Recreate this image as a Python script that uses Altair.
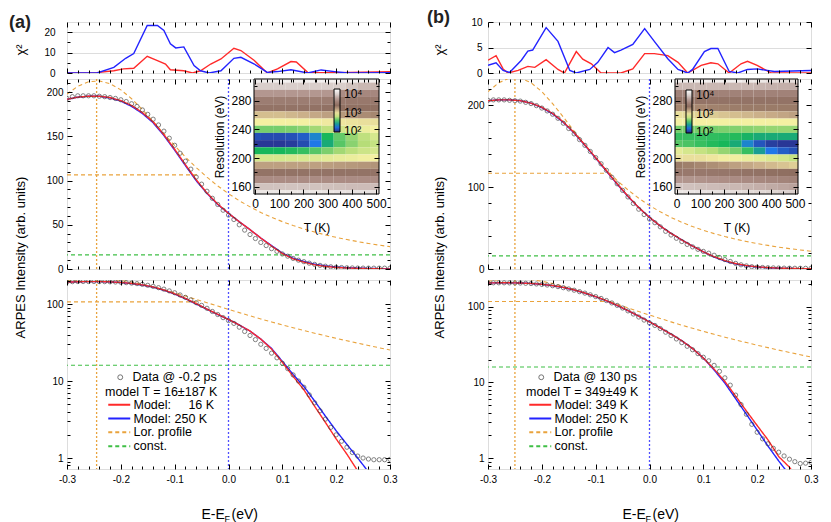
import altair as alt
import pandas as pd

FONT = "Liberation Sans"
W = 323
H_CHI, H_LIN, H_LOG = 51, 190, 189
XDOM = [-0.3, 0.3]

C_RED = "#ff2a2a"
C_BLUE = "#2323ff"
C_ORANGE = "#e9a33d"
C_GREEN = "#3fbf46"
C_VBLUE = "#5050ff"
C_DATA = "#3a3a3a"

# ---------------- energies ----------------
E_DATA = [-0.30, -0.29, -0.28, -0.27, -0.26, -0.25, -0.24, -0.23, -0.22, -0.21,
          -0.20, -0.19, -0.18, -0.17, -0.16, -0.15, -0.14, -0.13, -0.12, -0.11,
          -0.10, -0.09, -0.08, -0.07, -0.06, -0.05, -0.04, -0.03, -0.02, -0.01,
          0.00, 0.01, 0.02, 0.03, 0.04, 0.05, 0.06, 0.07, 0.08, 0.09,
          0.10, 0.11, 0.12, 0.13, 0.14, 0.15, 0.16, 0.17, 0.18, 0.19,
          0.20, 0.21, 0.22, 0.23, 0.24, 0.25, 0.26, 0.27, 0.28, 0.29, 0.30]
E_MODEL = [-0.30, -0.28, -0.26, -0.24, -0.22, -0.20, -0.18, -0.16, -0.14, -0.12,
           -0.10, -0.08, -0.06, -0.04, -0.02, 0.00, 0.02, 0.04, 0.06, 0.08,
           0.10, 0.12, 0.14, 0.16, 0.18, 0.20, 0.22, 0.24, 0.26, 0.28, 0.30]
X_MAJOR = [-0.3, -0.2, -0.1, 0.0, 0.1, 0.2, 0.3]
X_MINOR = [-0.28, -0.26, -0.24, -0.22, -0.18, -0.16, -0.14, -0.12, -0.08, -0.06,
           -0.04, -0.02, 0.02, 0.04, 0.06, 0.08, 0.12, 0.14, 0.16, 0.18,
           0.22, 0.24, 0.26, 0.28]

# ---------------- panel (a) ----------------
DATA_A = [193, 195, 196, 196, 196, 196, 195.5, 195, 194, 193,
          191.5, 189.5, 187, 184, 180, 175, 169.5, 163, 156, 148,
          140, 131, 122, 113, 104, 96, 88, 80, 73, 66.5,
          61, 56, 50, 44, 39, 34.5, 30, 26.5, 23, 20,
          17, 14.5, 12, 10, 8.3, 6.6, 5.2, 4.1, 3.2, 2.5,
          2.0, 1.65, 1.38, 1.18, 1.06, 1.0, 0.97, 0.95, 0.95, 0.95, 0.96]
RED_A = [192, 194.5, 195.5, 195.5, 194, 190.5, 185, 177, 166.5, 152,
         135.5, 118, 101, 86, 73.5, 63, 53.5, 44.5, 35, 26,
         17.5, 11.5, 7.7, 4.7, 2.9, 1.77, 1.12, 0.68, 0.4, 0.22, 0.12]
BLUE_A = [192, 194.5, 195.5, 195.5, 193.5, 190, 184, 176, 165.5, 151,
          134.5, 117, 100, 85.5, 73, 63, 53.5, 44.5, 35, 26.5,
          18, 12.2, 8.5, 5.5, 3.5, 2.26, 1.5, 1.0, 0.66, 0.43, 0.27]
LOR_A = [198, 206.7, 211.8, 212.9, 209.7, 202.7, 192.7, 180.4, 167, 153.2,
         139.6, 126.7, 114.8, 103.9, 94, 85.2, 77.3, 70.3, 64, 58.5,
         53.6, 49.2, 45.3, 41.8, 38.6, 35.8, 33.3, 31, 28.9, 27, 25.3]
CHI_A_RED_X = [-0.30, -0.245, -0.213, -0.195, -0.176, -0.151, -0.132, -0.117, -0.108, -0.083,
               -0.067, -0.052, -0.033, -0.014, 0.010, 0.023, 0.048, 0.072, 0.091, 0.116,
               0.126, 0.147, 0.20, 0.30]
CHI_A_RED = [0, 0.2, 1.1, 2.0, 2.3, 8.2, 6.1, 4.4, 1.6, 1.1,
             0, 1.1, 4.4, 6.9, 12.1, 11.0, 6.1, 0, 2.0, 5.6,
             5.4, 0.3, 0.1, 0.6]
CHI_A_BLUE_X = [-0.30, -0.244, -0.213, -0.191, -0.176, -0.151, -0.132, -0.120, -0.108, -0.098,
                -0.083, -0.064, -0.052, -0.036, -0.014, 0.010, 0.023, 0.048, 0.072, 0.091,
                0.116, 0.147, 0.172, 0.197, 0.221, 0.30]
CHI_A_BLUE = [0, 0, 2.8, 7.2, 9.5, 23.3, 23.3, 20.8, 14.3, 12.3,
              12.8, 3.6, 1.1, 0, 1.1, 7.2, 7.7, 4.4, 0.3, 0.7,
              1.6, 0, 1.5, 0.7, 0, 0.2]

# ---------------- panel (b) ----------------
DATA_B = [206, 206.5, 206.5, 206.5, 206, 205.5, 205, 203.5, 202, 199.5,
          196.5, 193, 189, 184, 178, 171.5, 165, 158, 151, 143.5,
          136, 128.5, 120.5, 112, 104, 96, 88, 80, 73, 66.5,
          61, 56.5, 51.5, 46, 41.5, 37.5, 33.5, 30, 27, 24,
          21.5, 19.3, 16.8, 14, 11.5, 9.2, 6.8, 5.1, 3.8, 2.8,
          2.2, 1.8, 1.55, 1.35, 1.2, 1.07, 0.97, 0.9, 0.85, 0.86, 0.88]
RED_B = [205.5, 206.5, 206.5, 205.5, 202.5, 197.5, 190, 179.5, 166.5, 151.5,
         136, 120, 104, 89, 75, 63, 52.5, 43.5, 35.5, 28,
         21, 15, 10.3, 6.6, 4.2, 2.7, 1.75, 1.05, 0.76, 0.48, 0.3]
BLUE_B = [205.5, 206.5, 206.5, 205.5, 202.5, 197, 189.5, 179, 166, 151,
          135.5, 119.5, 103.5, 88.5, 75, 63, 52.5, 43.5, 35.5, 28,
          21, 14.6, 9.8, 6.1, 3.8, 2.35, 1.45, 0.92, 0.6, 0.38, 0.23]
LOR_B = [216.5, 227.4, 233.3, 233.3, 227.4, 216.5, 202, 185.5, 168.3, 151.4,
         135.5, 121, 108, 96.5, 86.4, 77.5, 69.8, 63, 57, 51.8,
         47.2, 43.2, 39.6, 36.4, 33.6, 31, 28.8, 26.7, 24.9, 23.2, 21.7]
CHI_B_RED_X = [-0.30, -0.285, -0.272, -0.263, -0.244, -0.226, -0.213, -0.192, -0.17, -0.158,
               -0.136, -0.124, -0.108, -0.09, -0.053, -0.031, -0.009, 0.009, 0.034, 0.053,
               0.071, 0.096, 0.114, 0.127, 0.148, 0.17, 0.182, 0.2, 0.226, 0.30]
CHI_B_RED = [2.5, 3.4, 0.8, 0.0, 0.5, 1.3, 1.1, 2.6, 0.7, 0.0,
             4.2, 2.7, 1.8, 0.0, 0.0, 0.8, 3.8, 3.8, 3.4, 2.1,
             0.0, 1.5, 2.0, 1.8, 0.0, 1.8, 2.3, 1.5, 0.0, 0.0]
CHI_B_BLUE_X = [-0.30, -0.285, -0.272, -0.26, -0.238, -0.226, -0.217, -0.192, -0.17, -0.148,
                -0.136, -0.111, -0.096, -0.077, -0.065, -0.053, -0.031, -0.009, 0.009, 0.034,
                0.053, 0.071, 0.08, 0.102, 0.114, 0.127, 0.148, 0.164, 0.182, 0.2,
                0.232, 0.30]
CHI_B_BLUE = [1.5, 2.0, 0.5, 0.1, 2.5, 4.3, 4.5, 8.9, 6.2, 0.5,
              0.0, 0.7, 2.1, 5.0, 4.0, 4.5, 5.6, 8.7, 6.2, 2.8,
              0.7, 0.0, 0.7, 4.2, 4.8, 4.8, 0.3, 0.0, 0.7, 0.8,
              0.3, 0.5]

# ---------------- inset maps: log10(chi^2) ----------------
HEAT_T = [0, 50, 100, 150, 200, 250, 300, 350, 400, 450, 500]
HEAT_RES = [310, 300, 290, 280, 270, 260, 250, 240, 230, 220, 210, 200, 190, 180, 170, 160, 150]
HEAT_A = [
    [4.2, 4.2, 4.2, 4.2, 4.2, 4.2, 4.2, 4.2, 4.2, 4.2, 4.2],
    [4.0, 4.0, 4.0, 4.0, 4.0, 4.0, 4.0, 4.0, 3.95, 3.9, 3.9],
    [3.75, 3.75, 3.75, 3.75, 3.75, 3.75, 3.75, 3.7, 3.7, 3.65, 3.65],
    [3.55, 3.55, 3.55, 3.55, 3.55, 3.55, 3.55, 3.5, 3.5, 3.5, 3.5],
    [3.45, 3.45, 3.45, 3.45, 3.45, 3.44, 3.43, 3.42, 3.42, 3.42, 3.42],
    [3.1, 3.1, 3.1, 3.12, 3.14, 3.17, 3.2, 3.23, 3.26, 3.28, 3.3],
    [2.95, 2.95, 2.95, 2.95, 2.95, 2.96, 2.97, 2.98, 2.99, 3.0, 3.0],
    [2.65, 2.65, 2.65, 2.66, 2.68, 2.72, 2.78, 2.84, 2.88, 2.92, 2.95],
    [2.1, 2.08, 2.08, 2.1, 2.15, 2.3, 2.5, 2.62, 2.7, 2.78, 2.85],
    [2.0, 2.0, 2.0, 2.02, 2.08, 2.25, 2.45, 2.6, 2.68, 2.75, 2.8],
    [2.5, 2.5, 2.5, 2.52, 2.55, 2.6, 2.66, 2.72, 2.77, 2.82, 2.85],
    [2.85, 2.85, 2.85, 2.86, 2.87, 2.88, 2.9, 2.91, 2.92, 2.94, 2.95],
    [3.2, 3.2, 3.2, 3.2, 3.2, 3.2, 3.21, 3.22, 3.23, 3.24, 3.25],
    [3.45, 3.45, 3.45, 3.45, 3.45, 3.45, 3.45, 3.45, 3.45, 3.45, 3.45],
    [3.7, 3.7, 3.7, 3.7, 3.7, 3.7, 3.7, 3.7, 3.7, 3.7, 3.7],
    [3.95, 3.95, 3.95, 3.95, 3.95, 3.95, 3.94, 3.93, 3.92, 3.92, 3.92],
    [4.15, 4.15, 4.15, 4.15, 4.15, 4.15, 4.14, 4.13, 4.12, 4.12, 4.12],
]
HEAT_B = [
    [4.2, 4.2, 4.2, 4.2, 4.2, 4.2, 4.15, 4.15, 4.1, 4.1, 4.1],
    [3.9, 3.9, 3.9, 3.9, 3.9, 3.9, 3.9, 3.88, 3.87, 3.86, 3.85],
    [3.6, 3.6, 3.6, 3.6, 3.6, 3.6, 3.6, 3.6, 3.6, 3.6, 3.6],
    [3.45, 3.45, 3.45, 3.45, 3.45, 3.45, 3.45, 3.45, 3.45, 3.45, 3.45],
    [3.3, 3.3, 3.3, 3.32, 3.33, 3.34, 3.35, 3.35, 3.35, 3.35, 3.35],
    [3.0, 3.02, 3.04, 3.06, 3.08, 3.1, 3.12, 3.14, 3.16, 3.18, 3.2],
    [2.95, 2.95, 2.95, 2.95, 2.95, 2.95, 2.95, 2.95, 2.95, 2.95, 2.95],
    [2.65, 2.65, 2.65, 2.65, 2.66, 2.67, 2.68, 2.69, 2.7, 2.7, 2.7],
    [2.55, 2.55, 2.55, 2.54, 2.53, 2.52, 2.48, 2.45, 2.45, 2.45, 2.45],
    [2.6, 2.58, 2.55, 2.52, 2.5, 2.45, 2.3, 2.12, 2.03, 2.0, 2.0],
    [2.9, 2.85, 2.8, 2.75, 2.7, 2.65, 2.55, 2.4, 2.25, 2.15, 2.1],
    [3.0, 3.0, 3.0, 2.98, 2.96, 2.94, 2.92, 2.9, 2.87, 2.84, 2.8],
    [3.35, 3.33, 3.3, 3.27, 3.24, 3.2, 3.17, 3.14, 3.11, 3.08, 3.05],
    [3.5, 3.5, 3.5, 3.49, 3.48, 3.47, 3.45, 3.44, 3.42, 3.41, 3.4],
    [3.75, 3.74, 3.73, 3.72, 3.71, 3.7, 3.68, 3.66, 3.64, 3.62, 3.6],
    [3.95, 3.94, 3.93, 3.92, 3.91, 3.9, 3.88, 3.86, 3.84, 3.82, 3.8],
    [4.15, 4.14, 4.13, 4.12, 4.11, 4.1, 4.08, 4.06, 4.04, 4.02, 4.0],
]
CB_STOPS = [1.95, 2.25, 2.5, 2.75, 2.95, 3.15, 3.4, 3.7, 4.0, 4.3]
CB_COLORS = ["#2b2a85", "#1f78e8", "#17b75a", "#b6dd78", "#f4f0a2",
             "#c9ad89", "#8e6e60", "#ab8c84", "#d9cecb", "#ffffff"]
T_MAJOR = [0, 100, 200, 300, 400, 500]
T_MINOR = [50, 150, 250, 350, 450]
R_MAJOR = [160, 200, 240, 280]
R_MINOR = [180, 220, 260, 300]
RDOM = [150, 310]
INSET_H = 115

LOG_MAJOR = [1, 10, 100]
LOG_MINOR = [0.8, 0.9, 2, 3, 4, 5, 6, 7, 8, 9, 20, 30, 40, 50, 60, 70, 80, 90, 200]

PANELS = [
    dict(tag="(a)", tag_dx=-58, ytx=-47, chi_pad=12, data=DATA_A, red=RED_A, blue=BLUE_A, lor=LOR_A,
         chi_rx=CHI_A_RED_X, chi_r=CHI_A_RED, chi_bx=CHI_A_BLUE_X, chi_b=CHI_A_BLUE,
         chi_dom=[0, 25], chi_major=[0, 10, 20], chi_minor=[5, 15],
         lin_dom=[0, 215], lin_major=[0, 50, 100, 150, 200],
         lin_minor=[10, 20, 30, 40, 60, 70, 80, 90, 110, 120, 130, 140, 160, 170, 180, 190, 210],
         log_dom=[0.72, 205], peak_x=-0.245, half=106.5, half_end=-0.057, const=16,
         data_lbl="Data @ -0.2 ps", model_title="model T = 16\u00b1187 K",
         m1="Model: \u2007\u200716 K", m2="Model: 250 K",
         heat=HEAT_A, tdom=[-4, 512], trange=[187, 312], cbx=267, cby=10),
    dict(tag="(b)", tag_dx=-61, ytx=-49, chi_pad=6, data=DATA_B, red=RED_B, blue=BLUE_B, lor=LOR_B,
         chi_rx=CHI_B_RED_X, chi_r=CHI_B_RED, chi_bx=CHI_B_BLUE_X, chi_b=CHI_B_BLUE,
         chi_dom=[0, 10], chi_major=[0, 5, 10], chi_minor=[],
         lin_dom=[0, 232], lin_major=[0, 100, 200],
         lin_minor=[20, 40, 60, 80, 120, 140, 160, 180, 220],
         log_dom=[0.72, 225], peak_x=-0.25, half=117, half_end=-0.068, const=16,
         data_lbl="Data @ 130 ps", model_title="model T = 349\u00b149 K",
         m1="Model: 349 K", m2="Model: 250 K",
         heat=HEAT_B, tdom=[-7, 513], trange=[187, 310], cbx=198, cby=11),
]


def tick_axis(orient, offset, values, size):
    return alt.Axis(orient=orient, offset=offset, values=values, tickSize=size, labels=False,
                    domain=False, grid=False, title=None, ticks=True, tickColor="black",
                    tickWidth=1, zindex=1)


def tick_layers(dummy, xf, yf, xsc, ysc, xmaj, xmin, ymaj, ymin, box, w, h):
    """Inward ticks on the four edges of box=(x0, x1, y0, y1) in pixels."""
    x0, x1, y0, y1 = box
    specs = [
        (("top", -y1, xmaj, 5), ("right", x0 - w, ymaj, 5)),
        (("bottom", y0 - h, xmaj, 5), ("left", -x1, ymaj, 5)),
        (("top", -y1, xmin, 3), ("right", x0 - w, ymin, 3)),
        (("bottom", y0 - h, xmin, 3), ("left", -x1, ymin, 3)),
    ]
    out = []
    for xs, ys in specs:
        out.append(alt.Chart(dummy).mark_point(opacity=0).encode(
            x=alt.X(f"{xf}:Q", scale=xsc, axis=tick_axis(*xs)),
            y=alt.Y(f"{yf}:Q", scale=ysc, axis=tick_axis(*ys))))
    return out


def xsc():
    return alt.Scale(domain=XDOM, nice=False, zero=False)


def build_column(p):
    # ---------- chi^2 panel ----------
    chi_sc = alt.Scale(domain=p["chi_dom"], nice=False, zero=False)
    chi_yaxis = alt.Axis(orient="left", values=p["chi_major"], ticks=False, domain=False,
                         labelPadding=p["chi_pad"], labelFlush=False, title="\u03c7\u00b2",
                         titleX=p["ytx"], titleY=H_CHI / 2 + 2, titleAngle=-90, titleAlign="center",
                         titleBaseline="middle", titleFontSize=13, titleFontWeight="normal")
    chi_r = alt.Chart(pd.DataFrame({"x": p["chi_rx"], "y": p["chi_r"]})).mark_line(
        color=C_RED, strokeWidth=1.4, clip=True).encode(
        x=alt.X("x:Q", scale=xsc(), axis=None),
        y=alt.Y("y:Q", scale=chi_sc, axis=chi_yaxis))
    chi_b = alt.Chart(pd.DataFrame({"x": p["chi_bx"], "y": p["chi_b"]})).mark_line(
        color=C_BLUE, strokeWidth=1.4, clip=True).encode(
        x=alt.X("x:Q", scale=xsc(), axis=None),
        y=alt.Y("y:Q", scale=chi_sc, axis=None))
    dummy = pd.DataFrame({"x": [0.0], "y": [p["chi_dom"][0]]})
    chi = alt.layer(chi_r, chi_b, *tick_layers(dummy, "x", "y", xsc(), chi_sc, X_MAJOR, X_MINOR,
                                               p["chi_major"], p["chi_minor"], (0, W, 0, H_CHI), W, H_CHI)
                    ).resolve_axis(x="independent", y="independent").properties(
        width=W, height=H_CHI,
        title=alt.TitleParams(p["tag"], anchor="start", frame="group", dx=p["tag_dx"], offset=-10,
                              fontSize=18, fontWeight="bold", font=FONT, color="#222222"))

    # ---------- linear panel ----------
    lin_sc = alt.Scale(domain=p["lin_dom"], nice=False, zero=False)
    df_model = pd.DataFrame({"x": E_MODEL, "red": p["red"], "blue": p["blue"], "lor": p["lor"]})
    df_data = pd.DataFrame({"x": E_DATA, "y": p["data"]})
    lin_yaxis = alt.Axis(orient="left", values=p["lin_major"], ticks=False, domain=False,
                         labelPadding=4, labelFlush=False,
                         title="ARPES Intensity (arb. units)", titleX=p["ytx"], titleY=178,
                         titleAngle=-90, titleAlign="center", titleBaseline="middle",
                         titleFontSize=13, titleFontWeight="normal")

    def lin_line(field, color, dash, width, axis=None):
        return alt.Chart(df_model).mark_line(color=color, strokeDash=dash, strokeWidth=width,
                                             clip=True).encode(
            x=alt.X("x:Q", scale=xsc(), axis=None),
            y=alt.Y(f"{field}:Q", scale=lin_sc, axis=axis))

    l_lor = lin_line("lor", C_ORANGE, [4, 3], 1.1)
    l_const = alt.Chart(pd.DataFrame({"y": [p["const"]]})).mark_rule(
        color=C_GREEN, strokeDash=[4, 3], strokeWidth=1.1).encode(
        y=alt.Y("y:Q", scale=lin_sc, axis=None))
    l_vo = alt.Chart(pd.DataFrame({"x": [p["peak_x"]]})).mark_rule(
        color=C_ORANGE, strokeDash=[2, 2], strokeWidth=1.3).encode(
        x=alt.X("x:Q", scale=xsc(), axis=None))
    l_vb = alt.Chart(pd.DataFrame({"x": [0.0]})).mark_rule(
        color=C_VBLUE, strokeDash=[2, 2], strokeWidth=1.3).encode(
        x=alt.X("x:Q", scale=xsc(), axis=None))
    l_h = alt.Chart(pd.DataFrame({"x": [-0.3], "x2": [p["half_end"]], "y": [p["half"]]})).mark_rule(
        color=C_ORANGE, strokeDash=[4, 3], strokeWidth=1.1).encode(
        x=alt.X("x:Q", scale=xsc(), axis=None), x2="x2:Q",
        y=alt.Y("y:Q", scale=lin_sc, axis=None))
    l_blue = lin_line("blue", C_BLUE, [1, 0], 1.4)
    l_red = lin_line("red", C_RED, [1, 0], 1.4)
    l_data = alt.Chart(df_data).mark_point(filled=False, size=18, strokeWidth=0.9,
                                           color=C_DATA, clip=True).encode(
        x=alt.X("x:Q", scale=xsc(), axis=None),
        y=alt.Y("y:Q", scale=lin_sc, axis=lin_yaxis))
    dummy = pd.DataFrame({"x": [0.0], "y": [p["lin_dom"][0]]})
    main = alt.layer(l_lor, l_const, l_vo, l_vb, l_h, l_blue, l_red, l_data,
                     *tick_layers(dummy, "x", "y", xsc(), lin_sc, X_MAJOR, X_MINOR,
                                  p["lin_major"], p["lin_minor"], (0, W, 0, H_LIN), W, H_LIN)
                     ).resolve_axis(x="independent", y="independent")

    # inset heat map
    tdom = p["tdom"]
    x0, x1 = p["trange"]
    t_sc = alt.Scale(domain=tdom, range=[x0, x1], nice=False, zero=False)
    r_sc = alt.Scale(domain=RDOM, range=[INSET_H, 0], nice=False, zero=False)
    recs = []
    for r, row in zip(HEAT_RES, p["heat"]):
        for t, v in zip(HEAT_T, row):
            recs.append(dict(t1=max(t - 25, tdom[0]), t2=min(t + 25, tdom[1]),
                             r1=max(r - 5, RDOM[0]), r2=min(r + 5, RDOM[1]), v=v))
    df_heat = pd.DataFrame(recs)
    cscale = alt.Scale(domain=CB_STOPS, range=CB_COLORS, interpolate="rgb")
    heat = alt.Chart(df_heat).mark_rect().encode(
        x=alt.X("t1:Q", scale=t_sc, axis=alt.Axis(
            orient="bottom", offset=-(H_LIN - INSET_H), values=T_MAJOR, ticks=False, domain=False,
            labelPadding=4, labelFlush=False, labelFontSize=12, title="T (K)", titleFontSize=12,
            titleFontWeight="normal",
            titleX=(x0 + x1) / 2, titleY=33, titleAlign="center", titleBaseline="middle", zindex=1)),
        x2="t2:Q",
        y=alt.Y("r1:Q", scale=r_sc, axis=alt.Axis(
            orient="left", offset=-x0, values=R_MAJOR, ticks=False, domain=False,
            labelPadding=3, labelFlush=False, labelFontSize=12, title="Resolution (eV)",
            titleFontSize=12, titleFontWeight="normal", titleX=-35, titleY=INSET_H / 2,
            titleAngle=-90, titleAlign="center", titleBaseline="middle", zindex=1)),
        y2="r2:Q",
        color=alt.Color("v:Q", scale=cscale, legend=alt.Legend(
            type="gradient", orient="none", legendX=p["cbx"], legendY=p["cby"], direction="vertical",
            gradientLength=43, gradientThickness=6, title=None, values=[2, 3, 4],
            labelExpr="datum.value == 2 ? '10\u00b2' : datum.value == 3 ? '10\u00b3' : '10\u2074'",
            labelFontSize=12, labelFont=FONT, labelColor="black", gradientStrokeColor="black",
            gradientStrokeWidth=1, padding=0, labelOffset=4, labelOverlap=False, zindex=2)))
    frame = alt.Chart(pd.DataFrame({"t1": [tdom[0]], "t2": [tdom[1]], "r1": [RDOM[0]], "r2": [RDOM[1]]})
                      ).mark_rect(fillOpacity=0, stroke="black", strokeWidth=1).encode(
        x=alt.X("t1:Q", scale=t_sc, axis=None), x2="t2:Q",
        y=alt.Y("r1:Q", scale=r_sc, axis=None), y2="r2:Q")
    idummy = pd.DataFrame({"t1": [100], "r1": [200]})
    inset = alt.layer(heat, frame,
                      *tick_layers(idummy, "t1", "r1", t_sc, r_sc, T_MAJOR, T_MINOR, R_MAJOR, R_MINOR,
                                   (x0, x1, 0, INSET_H), W, H_LIN)
                      ).resolve_axis(x="independent", y="independent")
    lin = alt.layer(main, inset).resolve_scale(
        x="independent", y="independent", color="independent"
    ).properties(width=W, height=H_LIN)

    # ---------- log panel ----------
    log_sc = alt.Scale(type="log", domain=p["log_dom"], nice=False)
    ser = [p["m1"], p["m2"], "Lor. profile", "const."]
    leg = alt.Legend(orient="none", legendX=38, legendY=106, title=p["model_title"],
                     titleFont=FONT, titleFontSize=12.5, titleFontWeight="normal", titleColor="black",
                     titlePadding=0, labelFont=FONT, labelFontSize=12.5, labelColor="black",
                     symbolType="M-2.2,0H2.2", symbolSize=100, symbolStrokeWidth=2,
                     symbolFillColor="transparent", symbolOffset=8, labelOffset=8,
                     rowPadding=0.8, padding=0)
    col_enc = alt.Color("series:N", scale=alt.Scale(domain=ser, range=[C_RED, C_BLUE, C_ORANGE, C_GREEN]),
                        legend=leg)
    dash_enc = alt.StrokeDash("series:N", scale=alt.Scale(domain=ser, range=[[1, 0], [1, 0], [4, 3], [4, 3]]),
                              legend=leg)

    def log_line(field, name, width, xaxis=None):
        d = pd.DataFrame({"x": E_MODEL, "y": p[field], "series": [name] * len(E_MODEL)})
        return alt.Chart(d).mark_line(strokeWidth=width, clip=True).encode(
            x=alt.X("x:Q", scale=xsc(), axis=xaxis),
            y=alt.Y("y:Q", scale=log_sc, axis=None),
            color=col_enc, strokeDash=dash_enc)

    sub_axis = alt.Axis(orient="bottom", values=[], labels=False, ticks=False, domain=False, grid=False,
                        title="F", titleFontSize=9, titleFontWeight="normal", titleX=157, titleY=49,
                        titleAlign="left", titleBaseline="middle")
    ev_axis = alt.Axis(orient="bottom", values=[], labels=False, ticks=False, domain=False, grid=False,
                       title="(eV)", titleFontSize=14, titleFontWeight="normal", titleX=164, titleY=45,
                       titleAlign="left", titleBaseline="middle")
    g_lor = log_line("lor", "Lor. profile", 1.1)
    g_const = alt.Chart(pd.DataFrame({"y": [p["const"]], "series": ["const."]})).mark_rule(
        strokeWidth=1.1).encode(y=alt.Y("y:Q", scale=log_sc, axis=None),
                                color=col_enc, strokeDash=dash_enc)
    g_vo = alt.Chart(pd.DataFrame({"x": [p["peak_x"]]})).mark_rule(
        color=C_ORANGE, strokeDash=[2, 2], strokeWidth=1.3).encode(
        x=alt.X("x:Q", scale=xsc(), axis=None))
    g_vb = alt.Chart(pd.DataFrame({"x": [0.0]})).mark_rule(
        color=C_VBLUE, strokeDash=[2, 2], strokeWidth=1.3).encode(
        x=alt.X("x:Q", scale=xsc(), axis=None))
    g_h = alt.Chart(pd.DataFrame({"x": [-0.3], "x2": [p["half_end"]], "y": [p["half"]]})).mark_rule(
        color=C_ORANGE, strokeDash=[4, 3], strokeWidth=1.1).encode(
        x=alt.X("x:Q", scale=xsc(), axis=None), x2="x2:Q",
        y=alt.Y("y:Q", scale=log_sc, axis=None))
    g_blue = log_line("blue", p["m2"], 1.4, xaxis=ev_axis)
    g_red = log_line("red", p["m1"], 1.4, xaxis=sub_axis)
    x_lab = alt.Axis(orient="bottom", values=X_MAJOR,
                     labelExpr="replace(format(datum.value, '.1f'), '\u2212', '-')",
                     ticks=False, domain=False, labelPadding=5, labelFlush=False, labelOverlap=False,
                     title="E-E", titleFontSize=14, titleFontWeight="normal", titleX=134, titleY=45,
                     titleAlign="left", titleBaseline="middle")
    y_lab = alt.Axis(orient="left", values=LOG_MAJOR, labelExpr="'' + datum.value", ticks=False,
                     domain=False, labelPadding=4, labelFlush=False, title=None)
    g_data = alt.Chart(pd.DataFrame({"x": E_DATA, "y": p["data"], "lbl": [p["data_lbl"]] * len(E_DATA)})
                       ).mark_point(filled=False, size=18, strokeWidth=0.9, color=C_DATA, clip=True).encode(
        x=alt.X("x:Q", scale=xsc(), axis=x_lab),
        y=alt.Y("y:Q", scale=log_sc, axis=y_lab),
        shape=alt.Shape("lbl:N", scale=alt.Scale(domain=[p["data_lbl"]], range=["circle"]),
                        legend=alt.Legend(orient="none", legendX=47, legendY=91, title=None,
                                          labelFont=FONT, labelFontSize=12.5, labelColor="black",
                                          symbolSize=24, symbolStrokeWidth=1, symbolStrokeColor=C_DATA,
                                          symbolFillColor="transparent", labelOffset=6, padding=0)))
    dummy = pd.DataFrame({"x": [0.0], "y": [1.0]})
    logp = alt.layer(g_lor, g_const, g_vo, g_vb, g_h, g_blue, g_red, g_data,
                     *tick_layers(dummy, "x", "y", xsc(), log_sc, X_MAJOR, X_MINOR,
                                  LOG_MAJOR, LOG_MINOR, (0, W, 0, H_LOG), W, H_LOG)
                     ).resolve_axis(x="independent", y="independent").properties(width=W, height=H_LOG)

    lower = alt.vconcat(lin, logp, spacing=11, bounds="flush").resolve_scale(
        color="independent", shape="independent", strokeDash="independent")
    col = alt.vconcat(chi, lower, spacing=6, bounds="flush").resolve_scale(
        color="independent", shape="independent", strokeDash="independent")
    return col


colA = build_column(PANELS[0])
colB = build_column(PANELS[1])

chart = alt.hconcat(colA, colB, spacing=28, bounds="full").resolve_scale(
    color="independent", shape="independent", strokeDash="independent"
).properties(
    padding={"left": 0, "top": 0, "right": 4, "bottom": 0}
).configure_view(
    stroke="black", strokeWidth=1
).configure_axis(
    labelFont=FONT, titleFont=FONT, labelFontSize=13, titleFontSize=13, titleFontWeight="normal",
    labelColor="black", titleColor="black", grid=False
).configure(background="white")

chart.save("out.html", embed_options={"renderer": "svg", "actions": False})
